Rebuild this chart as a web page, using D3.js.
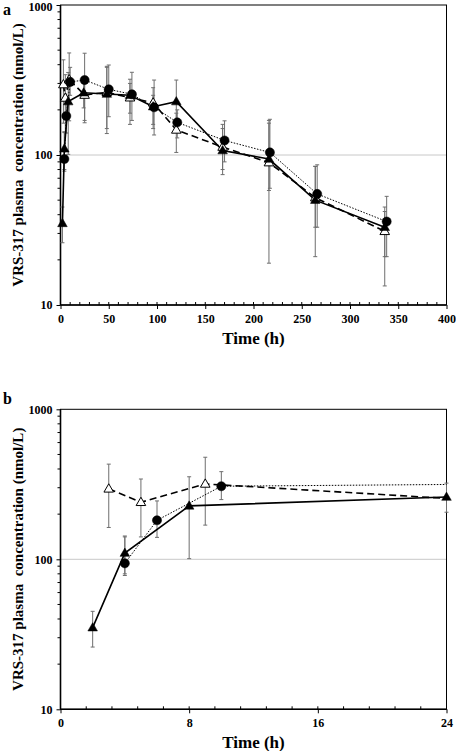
<!DOCTYPE html>
<html><head><meta charset="utf-8">
<script src="https://cdn.jsdelivr.net/npm/d3@7"></script>
<style>html,body{margin:0;padding:0;background:#fff;}svg{display:block;}</style>
</head><body>
<script>
// ---- Data ----
// Filled triangles, solid line
const triTimes = [2, 4, 8, 24, 48, 72, 96, 120, 168, 216, 264, 336];
const triValues = [35, 110, 227, 260, 255, 250, 210, 227, 107, 94, 50, 33];
const triUpper = [45, 143, 355, 322, 390, 320, 281, 316, 160, 163, 84, 42];
const triLower = [26, 80, 101, 206, 139, 190, 160, 160, 74, 58, 33, 21];
// Filled circles, dotted line
const circTimes = [4, 6, 10, 25, 50, 74, 97, 121, 170, 217, 266, 338];
const circValues = [94, 182, 307, 316, 274, 254, 208, 165, 125, 104, 55, 36];
const circUpper = [141, 245, 384, 477, 398, 356, 316, 200, 169, 173, 86, 53];
const circLower = [78, 140, 250, 164, 180, 170, 136, 130, 90, 60, 33, 21];
// Open triangles, dashed line
const openTimes = [3, 5, 9, 25, 48, 72, 96, 120, 168, 216, 264, 336];
const openValues = [295, 240, 318, 251, 262, 241, 223, 147, 113, 89, 52, 31];
const openUpper = [431, 343, 479, 330, 384, 300, 250, 190, 150, 170, 84, 45];
const openLower = [163, 141, 169, 170, 150, 160, 150, 104, 80, 19, 21, 13.4];

const yTickValues = [10, 100, 1000];
const xTicksA = [0, 50, 100, 150, 200, 250, 300, 350, 400];
const xTicksB = [0, 8, 16, 24];
const panelLabels = ["a", "b"];
const yTitle = "VRS-317 plasma  concentration (nmol/L)";
const xTitle = "Time (h)";

const W = 456, H = 751;
const svg = d3.select("body").append("svg").attr("width", W).attr("height", H);
const FONT = "'Liberation Serif','Times New Roman',serif";

const series = [
  {key: "open", t: openTimes, v: openValues, hi: openUpper, lo: openLower, dash: "7,4", width: 1.6, marker: "tri", fill: "#fff"},
  {key: "tri", t: triTimes, v: triValues, hi: triUpper, lo: triLower, dash: null, width: 1.6, marker: "tri", fill: "#000"},
  {key: "circ", t: circTimes, v: circValues, hi: circUpper, lo: circLower, dash: "1.5,1.5", width: 1, marker: "circle", fill: "#000"}
];

function panel(cfg, idx) {
  const left = 60.5, right = 446.5;
  const x = d3.scaleLinear().domain(cfg.xDomain).range([left, right]);
  const y = d3.scaleLog().domain([10, 1000]).range([cfg.bottom, cfg.top]);
  const g = svg.append("g");
  const clipId = "clip" + idx;
  svg.append("clipPath").attr("id", clipId).append("rect")
    .attr("x", left).attr("y", cfg.top).attr("width", right - left).attr("height", cfg.bottom - cfg.top);

  // gridline at 100
  g.append("line").attr("x1", left).attr("x2", right).attr("y1", y(100)).attr("y2", y(100))
    .attr("stroke", "#c8c8c8").attr("stroke-width", 1);

  // y axis (log) with minor ticks outward
  const yAxis = d3.axisLeft(y).tickValues(yTickValues).tickFormat(d3.format("d")).tickSize(4).tickPadding(4);
  const ya = g.append("g").attr("transform", `translate(${left},0)`).call(yAxis);
  ya.select(".domain").remove();
  ya.selectAll("text").attr("font-family", FONT).attr("font-weight", "bold").attr("font-size", 12).attr("fill", "#000");
  // keep the top label inside the picture
  ya.selectAll("text").filter(d => y(d) < 10).attr("dy", (d) => (10.8 - y(d)) + "px");
  const minorY = [];
  [10, 100].forEach(b => { for (let k = 2; k <= 9; k++) minorY.push(b * k); });
  g.selectAll(".ymin").data(minorY).enter().append("line")
    .attr("x1", left - 3).attr("x2", left).attr("y1", d => y(d)).attr("y2", d => y(d))
    .attr("stroke", "#000").attr("stroke-width", 1);

  // x axis
  const xAxis = d3.axisBottom(x).tickValues(cfg.xTicks).tickFormat(d3.format("d")).tickSize(4).tickPadding(5);
  const xa = g.append("g").attr("transform", `translate(0,${cfg.bottom})`).call(xAxis);
  xa.select(".domain").remove();
  xa.selectAll("text").attr("font-family", FONT).attr("font-weight", "bold").attr("font-size", 12).attr("fill", "#000");
  const minorX = d3.range(cfg.xDomain[0], cfg.xDomain[1] + 1e-9, cfg.minorStep);
  g.selectAll(".xmin").data(minorX).enter().append("line")
    .attr("x1", d => x(d)).attr("x2", d => x(d)).attr("y1", cfg.bottom - 3).attr("y2", cfg.bottom)
    .attr("stroke", "#000").attr("stroke-width", 1);

  // frame
  g.append("rect").attr("x", left).attr("y", cfg.top).attr("width", right - left).attr("height", cfg.bottom - cfg.top)
    .attr("fill", "none").attr("stroke", "#000").attr("stroke-width", 1);
  g.append("line").attr("x1", left).attr("x2", left).attr("y1", cfg.top).attr("y2", cfg.bottom)
    .attr("stroke", "#000").attr("stroke-width", 1.6);
  g.append("line").attr("x1", left).attr("x2", right).attr("y1", cfg.bottom).attr("y2", cfg.bottom)
    .attr("stroke", "#000").attr("stroke-width", 1.6);

  const inDomain = t => t >= cfg.xDomain[0] && t <= cfg.xDomain[1];

  // error bars
  series.forEach(s => {
    const pts = s.t.map((t, i) => ({t, hi: s.hi[i], lo: s.lo[i]})).filter(p => inDomain(p.t));
    const eg = g.append("g").attr("stroke", "#6e6e6e").attr("stroke-width", 1);
    pts.forEach(p => {
      eg.append("line").attr("x1", x(p.t)).attr("x2", x(p.t)).attr("y1", y(p.hi)).attr("y2", y(p.lo));
      eg.append("line").attr("x1", x(p.t) - 2).attr("x2", x(p.t) + 2).attr("y1", y(p.hi)).attr("y2", y(p.hi));
      eg.append("line").attr("x1", x(p.t) - 2).attr("x2", x(p.t) + 2).attr("y1", y(p.lo)).attr("y2", y(p.lo));
    });
  });

  // lines
  series.forEach(s => {
    const pts = s.t.map((t, i) => ({t, v: s.v[i]}));
    const line = d3.line().x(d => x(d.t)).y(d => y(d.v));
    g.append("path").attr("d", line(pts)).attr("clip-path", `url(#${clipId})`)
      .attr("fill", "none").attr("stroke", "#000").attr("stroke-width", s.width)
      .attr("stroke-dasharray", s.dash);
  });

  // markers
  series.forEach(s => {
    const pts = s.t.map((t, i) => ({t, v: s.v[i]})).filter(p => inDomain(p.t));
    const sym = s.marker === "circle" ? d3.symbol(d3.symbolCircle, 66) : d3.symbol(d3.symbolTriangle, 40);
    g.selectAll(null).data(pts).enter().append("path")
      .attr("d", sym)
      .attr("transform", d => `translate(${x(d.t)},${y(d.v) + (s.marker === "tri" ? 0.5 : 0)})`)
      .attr("fill", s.fill).attr("stroke", "#000").attr("stroke-width", s.fill === "#fff" ? 1 : 0.5);
  });

  // titles
  svg.append("text").attr("x", 3).attr("y", cfg.labelY).text(panelLabels[idx])
    .attr("font-family", FONT).attr("font-weight", "bold").attr("font-size", 16);
  svg.append("text").attr("transform", `translate(23,${(cfg.top + cfg.bottom) / 2}) rotate(-90)`)
    .attr("text-anchor", "middle").attr("xml:space", "preserve").style("white-space", "pre").text(yTitle)
    .attr("font-family", FONT).attr("font-weight", "bold").attr("font-size", 15);
  svg.append("text").attr("x", (left + right) / 2).attr("y", cfg.bottom + 39).attr("text-anchor", "middle").text(xTitle)
    .attr("font-family", FONT).attr("font-weight", "bold").attr("font-size", 17);
}

panel({top: 5, bottom: 305, xDomain: [0, 400], xTicks: xTicksA, minorStep: 10, labelY: 15}, 0);
panel({top: 409.3, bottom: 709.3, xDomain: [0, 24], xTicks: xTicksB, minorStep: 1.6, labelY: 404}, 1);
</script>
</body></html>
